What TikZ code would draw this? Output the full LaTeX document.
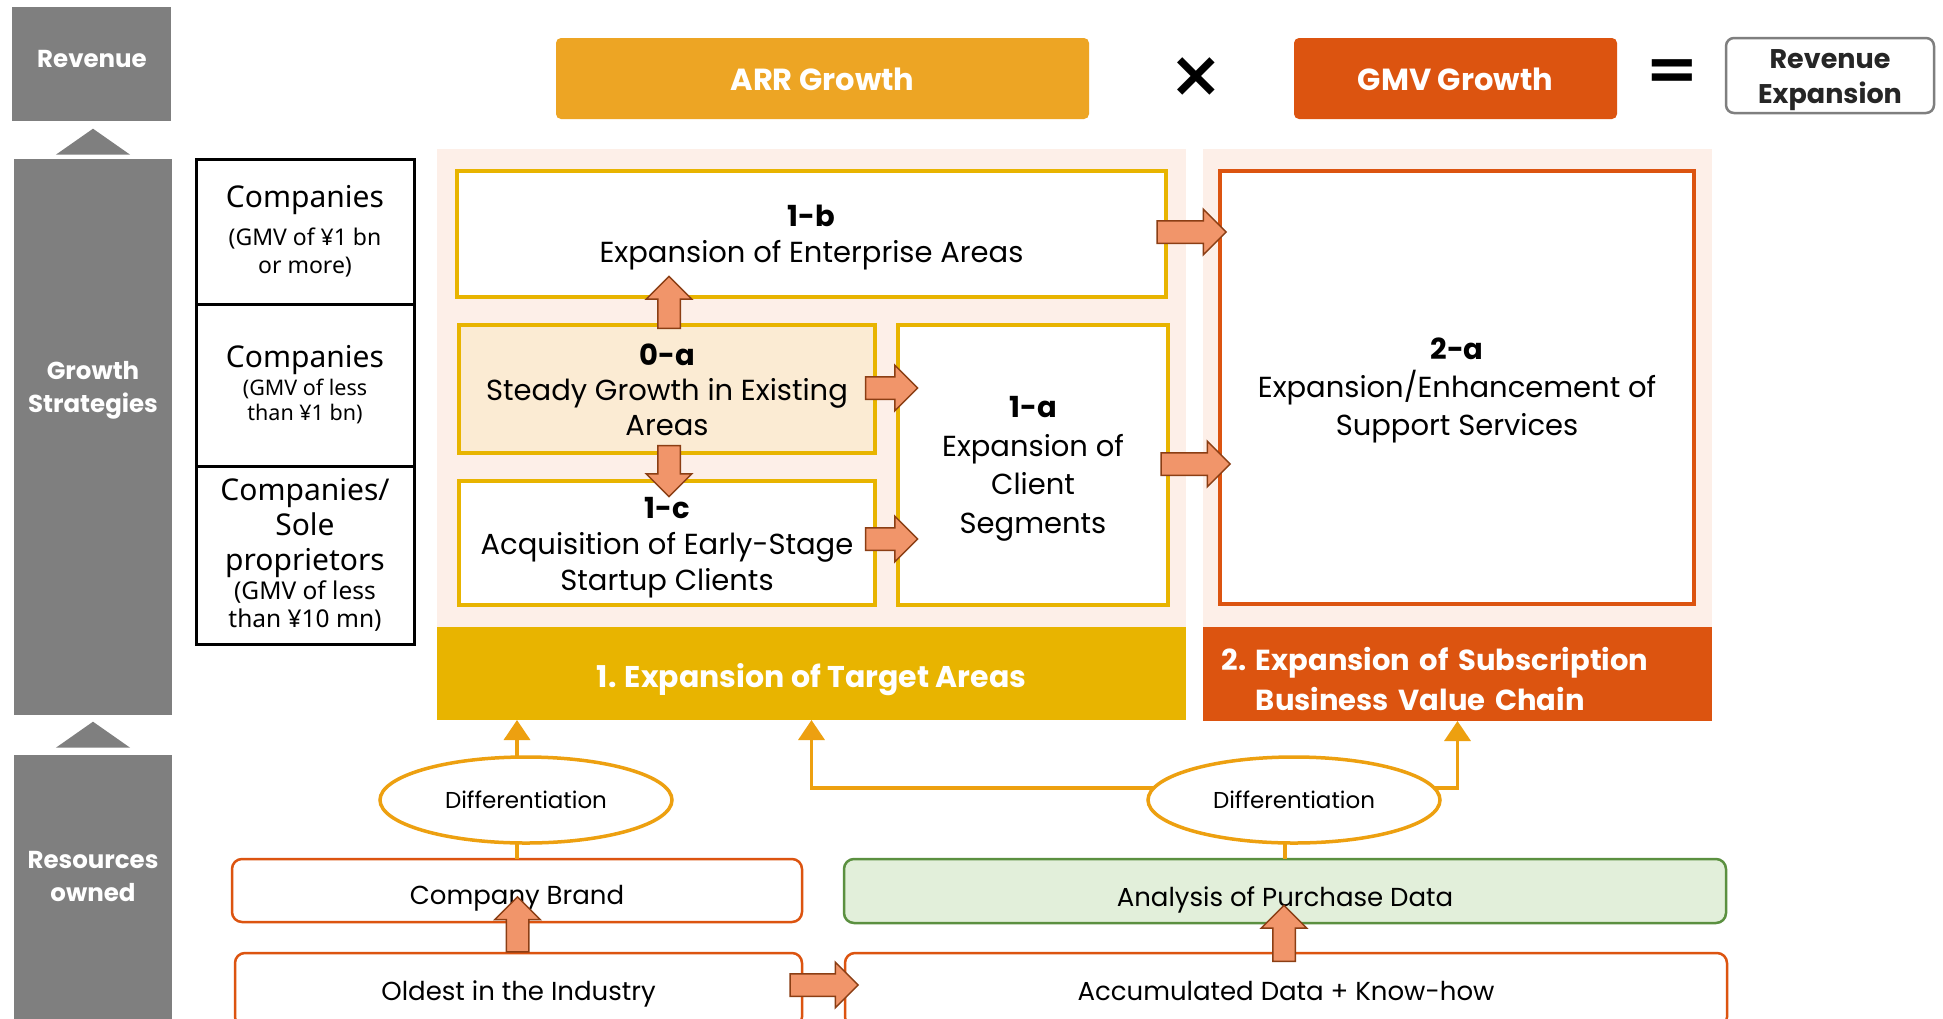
\documentclass[tikz,border=0pt]{standalone}
\usepackage{fontspec}
\setmainfont{Poppins}
\newfontfamily\tabfont{Noto Sans}
\newfontfamily\symfont{DejaVu Sans}
\usetikzlibrary{shapes.geometric,shapes.arrows,arrows.meta,calc}
\definecolor{gr}{HTML}{7F7F7F}
\definecolor{arr}{HTML}{EDA524}
\definecolor{org}{HTML}{DC5410}
\definecolor{yel}{HTML}{E8B400}
\definecolor{pale}{HTML}{FDEFE8}
\definecolor{cream}{HTML}{FBEBD3}
\definecolor{afill}{HTML}{F1956A}
\definecolor{abrd}{HTML}{8B3E14}
\definecolor{ell}{HTML}{EDA010}
\definecolor{grnf}{HTML}{E2EFDA}
\definecolor{grnb}{HTML}{5B9040}
\newcommand\tbig{\fontsize{30}{28}\selectfont}
\newcommand\tsma{\fontsize{23}{28}\selectfont}
\newcommand\tsmb{\fontsize{21.5}{25}\selectfont}
\newcommand\tsmc{\fontsize{24.5}{28}\selectfont}
\tikzset{
  graybox/.style={fill=gr, draw=none},
  graytxt/.style={text=white, font=\bfseries\fontsize{24.5}{33}\selectfont, align=center},
  tabrow/.style={draw=black, line width=3pt, minimum width=218pt, fill=white},
  tabtxt/.style={align=center, font=\tabfont\fontsize{24}{28}\selectfont},
  ybox/.style={draw=yel, line width=4.5pt, fill=white},
  btxt/.style={align=center, font=\fontsize{29}{36}\selectfont},
  palebg/.style={fill=pale, draw=none},
  topbox/.style={rounded corners=5pt},
  toptxt/.style={text=white, font=\bfseries\fontsize{30.5}{34}\selectfont},
  barbox/.style={draw=none},
  bartxt/.style={text=white, font=\bfseries\fontsize{30}{40}\selectfont},
  blockarrow/.style={single arrow, draw=abrd, fill=afill, line width=1.5pt,
     inner xsep=0pt, inner ysep=10.5pt, single arrow head extend=11.5pt, single arrow tip angle=90},
  ellnode/.style={ellipse, draw=ell, line width=3.5pt, fill=white, minimum width=292pt, minimum height=86pt, font=\fontsize{23}{26}\selectfont},
  oline/.style={draw=ell, line width=3.5pt},
  otip/.style={-{Triangle[length=20pt,width=26pt]}},
  obox/.style={draw=org, line width=2.5pt, fill=white, rounded corners=10pt},
  gbox/.style={draw=grnb, line width=2.5pt, fill=grnf, rounded corners=10pt},
  rtxt/.style={font=\fontsize{26}{28}\selectfont},
}
\begin{document}
\begin{tikzpicture}[x=1pt,y=-1pt, every node/.style={inner sep=0pt, outer sep=0pt}]
\useasboundingbox (0,0) rectangle (1943,1018);
\clip (0,0) rectangle (1943,1018);
\fill[white] (0,0) rectangle (1943,1018);

% left gray column
\node[graybox, minimum width=159pt, minimum height=114pt] (revg) at (91.5,64) {};
\node[graytxt] (revt) at (92,59) {Revenue};
\node[graybox, isosceles triangle, isosceles triangle apex angle=110, shape border rotate=90, minimum width=74pt, minimum height=26pt] (tri1) at (93,143) {};
\node[graybox, minimum width=158pt, minimum height=556pt] (gsg) at (93,437) {};
\node[graytxt] (gst) at (93,390) {Growth\\Strategies};
\node[graybox, isosceles triangle, isosceles triangle apex angle=110, shape border rotate=90, minimum width=74pt, minimum height=26pt] (tri2) at (93,736) {};
\node[graybox, minimum width=158pt, minimum height=275pt] (rog) at (93,892.5) {};
\node[graytxt] (rot) at (93,876) {Resources\\owned};

% table
\node[tabrow, minimum height=145pt] (t1) at (305,231.5) {};
\node[tabtxt] (t1t) at (t1) {\tbig Companies\\[10pt]\tsma (GMV of ¥1 bn\\\tsma or more)};
\node[tabrow, minimum height=162pt] (t2) at (305,385) {};
\node[tabtxt, font=\tabfont\fontsize{24}{25}\selectfont] (t2t) at (t2) {\tbig Companies\\[3pt]\tsmb (GMV of less\\\tsmb than ¥1 bn)};
\node[tabrow, minimum height=178pt] (t3) at (305,555) {};
\node[tabtxt] (t3t) at (t3) {\tbig Companies/\\[4pt]\tbig Sole\\[7pt]\tbig proprietors\\[1pt]\tsmc (GMV of less\\\tsmc than ¥10 mn)};

% top row
\node[topbox, fill=arr, minimum width=533pt, minimum height=81pt] (arrg) at (822.5,78.5) {};
\node[toptxt] (arrt) at ($(arrg)+(0,1)$) {ARR Growth};
\node[font=\symfont\bfseries\fontsize{64}{64}\selectfont] (times) at (1196,77) {×};
\node[topbox, fill=org, minimum width=323pt, minimum height=81pt] (gmvg) at (1455.5,78.5) {};
\node[toptxt] (gmvt) at ($(gmvg)+(0,1)$) {GMV Growth};
\node[font=\symfont\bfseries\fontsize{64}{64}\selectfont] (eq) at (1672,75) {=};
\node[draw=gr, line width=2.5pt, rounded corners=8pt, fill=white, minimum width=208pt, minimum height=75pt] (revexp) at (1830,75.5) {};
\node[align=center, font=\bfseries\fontsize{27}{35}\selectfont, text=black!85] (revexpt) at ($(revexp)+(0,5)$) {Revenue\\Expansion};

% pale backgrounds and bars
\node[palebg, minimum width=749pt, minimum height=478pt] (p1) at (811.5,388) {};
\node[palebg, minimum width=509pt, minimum height=478pt] (p2) at (1457.5,388) {};
\node[barbox, fill=yel, minimum width=749pt, minimum height=93pt] (bar1) at (811.5,673.5) {};
\node[bartxt] (bar1t) at ($(bar1)+(0,6)$) {1. Expansion of Target Areas};
\node[barbox, fill=org, minimum width=509pt, minimum height=94pt] (bar2) at (1457.5,674) {};
\node[bartxt, font=\bfseries\fontsize{29}{40}\selectfont, text width=472pt, align=left] (bar2t) at ($(bar2)+(0,5)$) {2.~Expansion of Subscription\\\hphantom{2.~}Business Value Chain};

% strategy boxes
\node[ybox, minimum width=709pt, minimum height=126pt] (eb) at (811.5,234) {};
\node[btxt] (ebt) at ($(eb)+(0,4)$) {\textbf{1-b}\\Expansion of Enterprise Areas};
\node[ybox, fill=cream, minimum width=416pt, minimum height=128pt] (oa) at (667,389) {};
\node[btxt, font=\fontsize{29}{35}\selectfont] (oat) at ($(oa)+(0,1)$) {\textbf{0-a}\\Steady Growth in Existing\\Areas};
\node[ybox, minimum width=416pt, minimum height=124pt] (ca) at (667,543) {};
\node[btxt] (cat) at ($(ca)+(0,5)$) {\textbf{1-c}\\Acquisition of Early-Stage\\Startup Clients};
\node[ybox, minimum width=270pt, minimum height=280pt] (sa) at (1033,465) {};
\node[btxt, font=\fontsize{29}{38.5}\selectfont] (sat) at ($(sa)+(0,4)$) {\textbf{1-a}\\Expansion of\\Client\\Segments};
\node[ybox, draw=org, minimum width=474pt, minimum height=433pt] (ta) at (1457,387.5) {};
\node[btxt, font=\fontsize{29}{38}\selectfont] (tat) at ($(ta)+(0,3)$) {\textbf{2-a}\\Expansion/Enhancement of\\Support Services};

% block arrows between strategy boxes
\node[blockarrow, minimum height=52pt, rotate=90] (a1) at ($(oa.north)+(2,-17)$) {};
\node[blockarrow, minimum height=51pt, rotate=-90] (a2) at ($(oa.south)+(2,12.5)$) {};
\node[blockarrow, minimum height=52pt] (a3) at ($(oa.east)+(11,-1)$) {};
\node[blockarrow, minimum height=52pt] (a4) at ($(ca.east)+(11,-4)$) {};
\node[blockarrow, minimum height=69pt] (a5) at ($(eb.east)+(20,-2)$) {};
\node[blockarrow, minimum height=69pt] (a6) at ($(sa.east)+(22,-1)$) {};

% resources
\node[obox, minimum width=570pt, minimum height=63pt] (cb) at (517,890.5) {};
\node[rtxt] (cbt) at ($(cb)+(0,8)$) {Company Brand};
\node[gbox, minimum width=882pt, minimum height=64pt] (apd) at (1285,891) {};
\node[rtxt] (apdt) at ($(apd)+(0,9)$) {Analysis of Purchase Data};
\node[obox, minimum width=567pt, minimum height=74pt] (old) at (518.5,990) {};
\node[rtxt] (oldt) at ($(old)+(0,4)$) {Oldest in the Industry};
\node[obox, minimum width=882pt, minimum height=74pt] (acc) at (1286,990) {};
\node[rtxt] (acct) at ($(acc)+(0,1)$) {Accumulated Data + Know-how};

% differentiation
\node[ellnode] (e1) at (526,800) {Differentiation};
\node[ellnode] (e2) at (1294,800) {Differentiation};
\draw[oline] (cb.north) -- (cb.north |- e1.south);
\draw[oline, otip] (cb.north |- e1.north) -- (cb.north |- bar1.south);
\draw[oline] (apd.north) -- (apd.north |- e2.south);
\draw[oline, otip] (e2.175) -| (bar1.south);
\draw[oline, otip] (e2.5) -| (bar2.south);

% block arrows in resources
\node[blockarrow, minimum height=55pt, rotate=90] (a7) at ($(old.north)+(-1,-23)$) {};
\node[blockarrow, minimum height=56pt, rotate=90] (a8) at ($(acc.north)+(-2,-14)$) {};
\node[blockarrow, minimum height=68pt] (a9) at ($(old.east)!0.5!(acc.west)+(-5,-5)$) {};
\end{tikzpicture}
\end{document}
